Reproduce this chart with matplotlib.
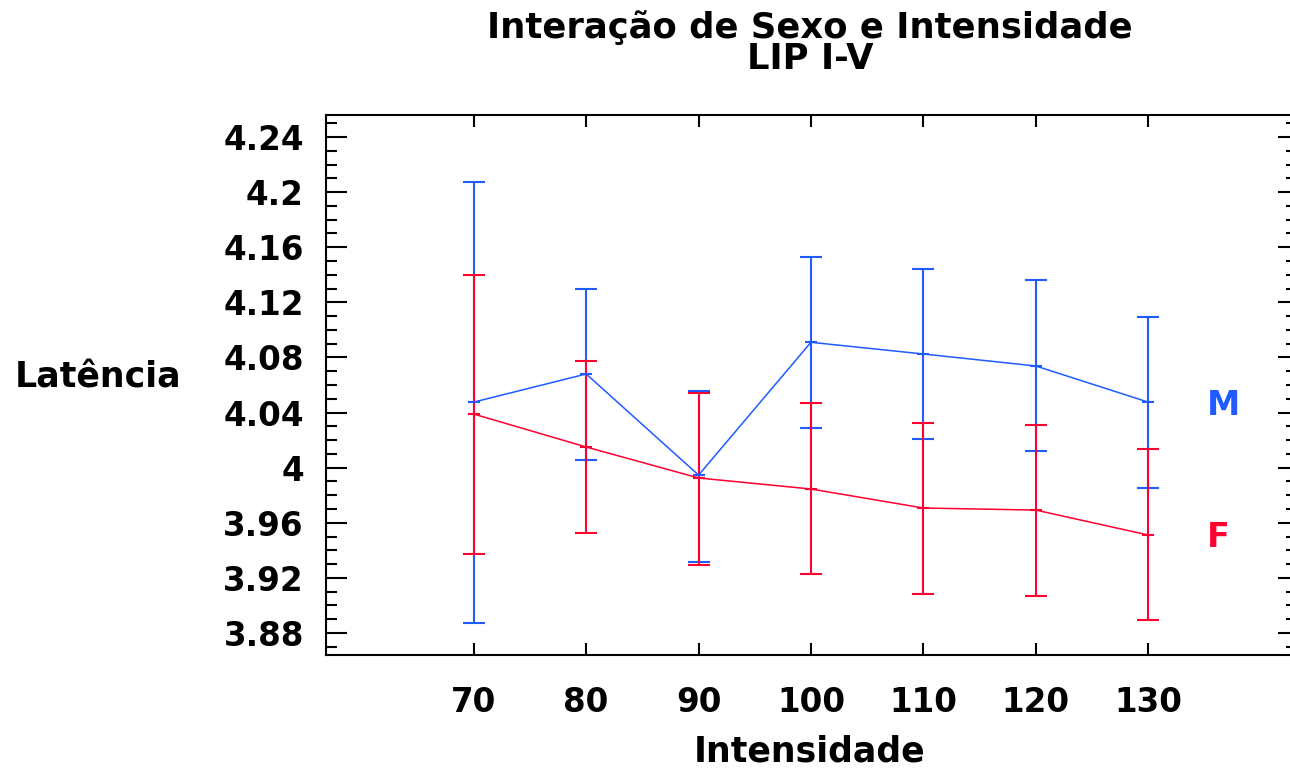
#----------------------------------------------------
#   Interacao de Sexo e Intensidade - LIP I-V
#----------------------------------------------------
import numpy as np
import matplotlib
matplotlib.use('Agg')
import matplotlib.pyplot as plt
#
intensidade = [70, 80, 90, 100, 110, 120, 130]
m_media = [4.0476, 4.068, 3.9946, 4.091, 4.0825, 4.0738, 4.0476]
m_sup = [4.2073, 4.1297, 4.0556, 4.1529, 4.1442, 4.1362, 4.1093]
m_inf = [3.8872, 4.0055, 3.9315, 4.0287, 4.0208, 4.012, 3.9852]
f_media = [4.0389, 4.015, 3.9925, 3.9845, 3.9707, 3.9692, 3.9511]
f_sup = [4.14, 4.0774, 4.0542, 4.0469, 4.0324, 4.0309, 4.0135]
f_inf = [3.9373, 3.9525, 3.929, 3.9228, 3.9082, 3.9068, 3.8894]
y_ticks = [3.88, 3.92, 3.96, 4.0, 4.04, 4.08, 4.12, 4.16, 4.2, 4.24]
#
plt.rcParams['font.family'] = ['DejaVu Sans']
plt.rcParams['font.weight'] = 'bold'
azul = '#1F5BFF'
verm = '#FF0030'
#
fig = plt.figure(figsize=(12.9, 7.71), dpi=100)
ax = fig.add_axes([326/1290, 1-655/771, (1292-326)/1290, (655-115)/771])
ax2 = ax.twinx()
#----- series M e F
for med, sup, inf, cor in [(m_media, m_sup, m_inf, azul), (f_media, f_sup, f_inf, verm)]:
    med = np.array(med)
    err = [med - np.array(inf), np.array(sup) - med]
    ax.errorbar(intensidade, med, yerr=err, color=cor, lw=1.1, elinewidth=1.5,
                capsize=8, capthick=1.5, marker='_', ms=8, mew=1.5)
#
ax.text(135.2, 4.0454, 'M', color=azul, fontsize=24, fontweight='bold', va='center', ha='left')
ax.text(135.2, 3.9496, 'F', color=verm, fontsize=24, fontweight='bold', va='center', ha='left')
#----- eixos
ax.set_xlim(56.85, 142.8)
ax.set_ylim(3.864, 4.256)
ax.set_xticks(intensidade)
ax.set_yticks(y_ticks)
ax.set_yticklabels([f'{v:g}' for v in y_ticks])
ax.set_yticks(np.arange(3.87, 4.255, 0.01), minor=True)
ax.yaxis.set_ticks_position('left')
ax.tick_params(axis='x', direction='in', top=True, bottom=True, length=8.5, width=1.5,
               labelsize=23.5, pad=22)
ax.tick_params(axis='y', which='major', direction='in', left=True, right=False,
               length=15, width=1.5, labelsize=23.5, pad=16)
ax.tick_params(axis='y', which='minor', direction='in', left=True, right=False,
               length=8, width=1.5)
for s in ['left', 'bottom', 'top']:
    ax.spines[s].set_linewidth(1.5)
ax.spines['right'].set_visible(False)
#----- ticks do lado direito
ax2.set_ylim(ax.get_ylim())
ax2.set_yticks(y_ticks)
ax2.set_yticks(np.arange(3.87, 4.255, 0.01), minor=True)
ax2.yaxis.set_ticks_position('right')
ax2.tick_params(axis='y', which='major', direction='in', length=10, width=1.5, labelright=False)
ax2.tick_params(axis='y', which='minor', direction='in', length=4.5, width=1.5)
for s in ax2.spines.values():
    s.set_visible(False)
#----- textos
fig.text(810/1290, 1-43/771, 'Interação de Sexo e Intensidade\nLIP I-V', ha='center', va='center',
         fontsize=25.5, fontweight='bold', linespacing=0.91)
fig.text(98/1290, 1-377/771, 'Latência', ha='center', va='center', fontsize=25, fontweight='bold')
fig.text(810/1290, 1-752/771, 'Intensidade', ha='center', va='center', fontsize=25, fontweight='bold')
#
plt.savefig('out.png', dpi=100)
